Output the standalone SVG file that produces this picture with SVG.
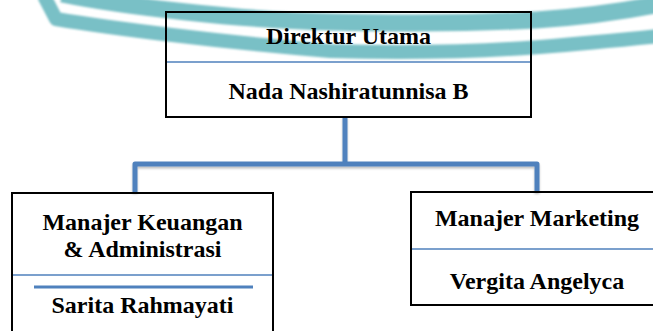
<svg xmlns="http://www.w3.org/2000/svg" width="653" height="331" viewBox="0 0 653 331">
<style>
.box{fill:none;stroke:#000;stroke-width:2}
.div{stroke:#4f81bd;stroke-width:1.6}
.t{font-family:"Liberation Serif","Times New Roman",serif;font-weight:bold;font-size:24px;fill:#000;text-anchor:middle}
.band{fill:none;stroke:#79c0c6;stroke-linejoin:round}
.conn{fill:none;stroke:#4f81bd;stroke-width:5;stroke-linejoin:round}
</style>
<defs>
<filter id="blur" x="-5%" y="-50%" width="110%" height="200%"><feGaussianBlur stdDeviation="0.8"/></filter>
<filter id="sh" x="-10%" y="-10%" width="120%" height="130%"><feDropShadow dx="0" dy="2" stdDeviation="1.2" flood-color="#000" flood-opacity="0.25"/></filter>
</defs>
<rect width="653" height="331" fill="#fff"/>
<g id="watermark" filter="url(#blur)">
<path class="band" stroke-width="17" d="M62,-6 C120,6 240,20 330,22 C420,24 500,22 536,20 C580,17 620,12 660,4"/>
<path class="band" stroke-width="14" d="M44,-4 L56,19 C110,28 220,42 330,51 C430,54 500,50 540,47 C590,43 620,40 660,36"/>
</g>
<g id="connectors" filter="url(#sh)">
<path class="conn" d="M345,117 V164"/>
<path class="conn" d="M135,192 V164 H537 V192"/>
</g>
<g id="direktur">
<rect class="box" x="166" y="12" width="365" height="105"/>
<line class="div" x1="167" y1="62" x2="530" y2="62"/>
<text class="t" x="348.5" y="44">Direktur Utama</text>
<text class="t" x="348.5" y="99">Nada Nashiratunnisa B</text>
</g>
<g id="keuangan">
<rect class="box" x="12" y="193" width="261" height="150"/>
<line class="div" x1="13" y1="275" x2="272" y2="275"/>
<line x1="34" y1="287" x2="253" y2="287" stroke="#4f81bd" stroke-width="3"/>
<text class="t" x="142.5" y="230">Manajer Keuangan</text>
<text class="t" x="142.5" y="257">&amp; Administrasi</text>
<text class="t" x="142.5" y="313">Sarita Rahmayati</text>
</g>
<g id="marketing">
<rect class="box" x="411" y="192" width="252" height="113"/>
<line class="div" x1="412" y1="249" x2="653" y2="249"/>
<text class="t" x="537" y="226">Manajer Marketing</text>
<text class="t" x="537" y="289">Vergita Angelyca</text>
</g>
</svg>
